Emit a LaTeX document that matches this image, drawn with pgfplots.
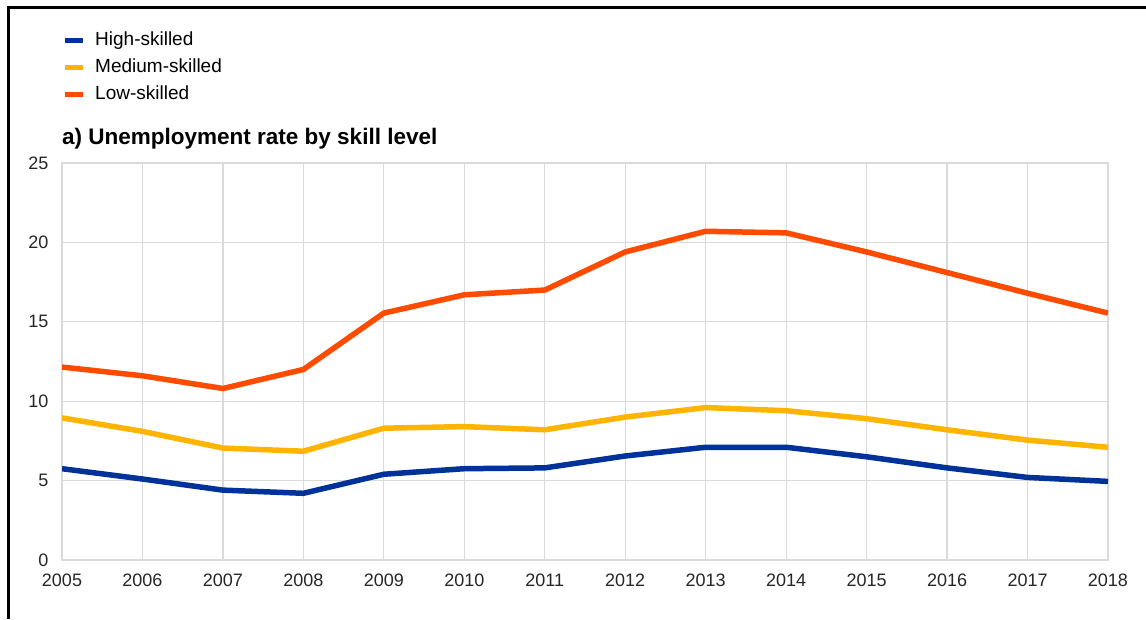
\documentclass[border=0pt]{standalone}
\usepackage{pgfplots}
\pgfplotsset{compat=1.18}
\usepackage{fontspec}
\setmainfont{Liberation Sans}
\definecolor{hblue}{HTML}{003299}
\definecolor{myel}{HTML}{FFB400}
\definecolor{lor}{HTML}{FF4B00}
\definecolor{gridc}{HTML}{DADADA}
\begin{document}
\begin{tikzpicture}[x=1pt,y=1pt]
\useasboundingbox (0,0) rectangle (1146,619);
\draw[line width=2.5pt] (8.5,0) -- (8.5,611.5) -- (1146,611.5);
\node[anchor=base west, font=\fontsize{22.5}{26}\selectfont\bfseries, inner sep=0pt] at (62,474) {a) Unemployment rate by skill level};
\begin{axis}[at={(62pt,59pt)}, anchor=south west, width=1046pt, height=397pt, scale only axis,
  xmin=2005, xmax=2018, ymin=0, ymax=25,
  xtick={2005,2006,...,2018}, ytick={0,5,...,25},
  grid=major, major grid style={gridc, line width=1.2pt},
  axis line style={gridc, line width=1.2pt},
  tick style={draw=none},
  /pgf/number format/1000 sep={}, /pgf/number format/assume math mode=true,
  ticklabel style={font=\fontsize{18}{20}\selectfont, text=black!85},
  xticklabel style={yshift=-10pt},
  yticklabel style={xshift=-10pt},
  legend style={at={(0,1.33)}, anchor=north west, draw=none, fill=none, inner sep=0pt,
    font=\fontsize{19}{22}\selectfont, row sep=10pt,
    nodes={inner sep=0pt, text height=13pt, text depth=4pt, anchor=west}},
  legend cell align=left,
  legend image code/.code={\draw[#1, line width=5pt] (0pt,0pt) -- (18pt,0pt);},
  every axis plot/.append style={line width=5.5pt, line join=round, line cap=butt},
]
\addplot[hblue] coordinates {(2005,5.75) (2006,5.1) (2007,4.4) (2008,4.2) (2009,5.4) (2010,5.75) (2011,5.8) (2012,6.55) (2013,7.1) (2014,7.1) (2015,6.5) (2016,5.8) (2017,5.2) (2018,4.95)};
\addlegendentry{\hspace{10pt}High-skilled}
\addplot[myel] coordinates {(2005,8.95) (2006,8.1) (2007,7.05) (2008,6.85) (2009,8.3) (2010,8.4) (2011,8.2) (2012,9.0) (2013,9.6) (2014,9.4) (2015,8.9) (2016,8.2) (2017,7.55) (2018,7.1)};
\addlegendentry{\hspace{10pt}Medium-skilled}
\addplot[lor] coordinates {(2005,12.15) (2006,11.6) (2007,10.8) (2008,12.0) (2009,15.55) (2010,16.7) (2011,17.0) (2012,19.4) (2013,20.7) (2014,20.6) (2015,19.4) (2016,18.1) (2017,16.8) (2018,15.55)};
\addlegendentry{\hspace{10pt}Low-skilled}
\end{axis}
\end{tikzpicture}
\end{document}
